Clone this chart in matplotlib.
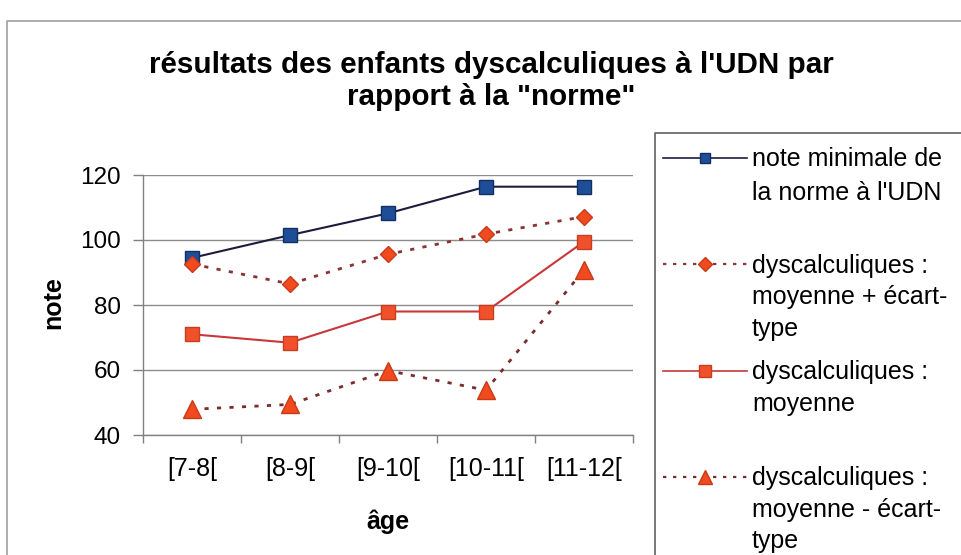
import matplotlib
matplotlib.use("Agg")
import matplotlib.pyplot as plt
from matplotlib.lines import Line2D

plt.rcParams['font.family'] = ['Liberation Sans', 'DejaVu Sans']

# ---- data ----
categories = ["[7-8[", "[8-9[", "[9-10[", "[10-11[", "[11-12["]
norme_min = [94.5, 101.5, 108.2, 116.4, 116.4]
moy_plus_et = [92.6, 86.5, 95.6, 101.8, 107.2]
moyenne = [71.0, 68.4, 78.0, 78.0, 99.5]
moy_moins_et = [47.9, 49.4, 59.8, 53.8, 90.8]

series_labels = [
    "note minimale de\nla norme à l'UDN",
    "dyscalculiques :\nmoyenne + écart-\ntype",
    "dyscalculiques :\nmoyenne",
    "dyscalculiques :\nmoyenne - écart-\ntype",
]
title = "résultats des enfants dyscalculiques à l'UDN par\nrapport à la \"norme\""
xlabel = "âge"
ylabel = "note"
yticks = [40, 60, 80, 100, 120]

# ---- styles ----
styles = [
    dict(color="#1c1c3c", lw=1.5, ls="-", marker="s", ms=9.5,
         mfc="#1f4e99", mec="#12305f", mew=1.0),
    dict(color="#8a3434", lw=2.0, ls=(0, (1.5, 3)), marker="D", ms=8.5,
         mfc="#f04a1e", mec="#c83a18", mew=1.0),
    dict(color="#c8373a", lw=1.5, ls="-", marker="s", ms=10,
         mfc="#f0502a", mec="#c83e20", mew=1.0),
    dict(color="#7a2d2d", lw=2.0, ls=(0, (1.5, 3)), marker="^", ms=12.5,
         mfc="#f04a1e", mec="#c83a18", mew=1.0),
]
values = [norme_min, moy_plus_et, moyenne, moy_moins_et]

W, H = 962, 555
fig = plt.figure(figsize=(W / 100, H / 100), dpi=100)
fx = lambda px: px / W
fy = lambda py: 1 - py / H

ax = fig.add_axes([fx(143), fy(435), (633 - 143) / W, (435 - 175) / H])

xs = [i + 0.5 for i in range(len(categories))]
for vals, st in zip(values, styles):
    ax.plot(xs, vals, color=st["color"], lw=st["lw"], ls=st["ls"],
            marker=st["marker"], ms=st["ms"], mfc=st["mfc"], mec=st["mec"],
            mew=st["mew"], clip_on=False, zorder=3)

ax.set_xlim(0, len(categories))
ax.set_ylim(40, 120)
ax.set_yticks(yticks)
ax.set_xticks(range(len(categories) + 1))
ax.set_xticklabels([])
ax.set_xticks(xs, minor=True)
ax.set_xticklabels(categories, minor=True, fontsize=18)
ax.tick_params(axis="x", which="major", length=6, width=1, color="#808080", direction="out")
ax.tick_params(axis="x", which="minor", length=0, pad=16)
ax.tick_params(axis="y", length=7, width=1, color="#808080", direction="out", labelsize=17.5, pad=9)

ax.yaxis.grid(True, color="#8c8c8c", lw=1)
ax.set_axisbelow(True)
for s in ["top", "right"]:
    ax.spines[s].set_visible(False)
for s in ["left", "bottom"]:
    ax.spines[s].set_color("#808080")
    ax.spines[s].set_linewidth(1)

ax.set_ylabel(ylabel, fontsize=18, fontweight="bold")
ax.yaxis.label.set_va("center")
ax.yaxis.label.set_ha("center")
ax.yaxis.set_label_coords((53 - 143) / 490, (435 - 303) / 260)
ax.set_xlabel(xlabel, fontsize=18, fontweight="bold")
ax.xaxis.label.set_va("center")
ax.xaxis.set_label_coords(0.5, (435 - 522) / 260)

fig.text(fx(491), fy(81), title, ha="center", va="center", fontsize=21.3,
         fontweight="bold", linespacing=1.2)

# chart border: only top and left edges are inside the picture
fig.add_artist(Line2D([fx(7), fx(7), 1.0], [0.0, fy(21), fy(21)],
                      transform=fig.transFigure, color="#a0a0a0", lw=1.2))
# legend box: only top and left edges are inside the picture
fig.add_artist(Line2D([fx(655), fx(655), 1.0], [0.0, fy(133), fy(133)],
                      transform=fig.transFigure, color="#606060", lw=1.2))

slot_top, slot_step, line_step = 158, 106.3, 31.5
for k, (lab, st) in enumerate(zip(series_labels, styles)):
    yk = slot_top + k * slot_step
    fig.add_artist(Line2D([fx(663), fx(747)], [fy(yk), fy(yk)], transform=fig.transFigure,
                          color=st["color"], lw=st["lw"] * 0.8, ls=st["ls"]))
    fig.add_artist(Line2D([fx(705)], [fy(yk)], transform=fig.transFigure, ls="none",
                          marker=st["marker"], ms=st["ms"] * 0.8, mfc=st["mfc"],
                          mec=st["mec"], mew=st["mew"]))
    for j, line in enumerate(lab.split("\n")):
        fig.text(fx(752), fy(yk + j * (33 if k == 0 else line_step) + 8.5), line,
                 ha="left", va="baseline", fontsize=18)

fig.savefig("out.png", dpi=100)
